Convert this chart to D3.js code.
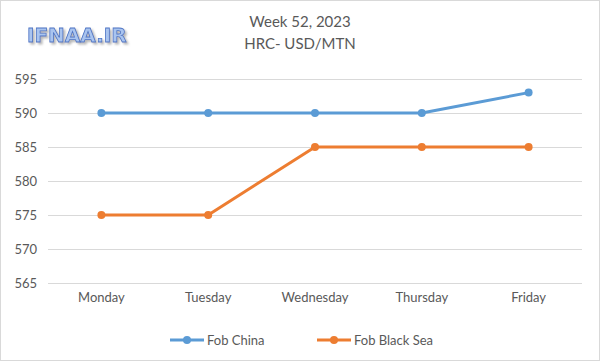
<!DOCTYPE html>
<html><head><meta charset="utf-8">
<script src="https://cdn.jsdelivr.net/npm/d3@7"></script>
<style>html,body{margin:0;padding:0;background:#fff;}svg{display:block;}</style>
</head><body>
<script>
const categories = ["Monday","Tuesday","Wednesday","Thursday","Friday"];
const fobChina = [590,590,590,590,593];
const fobBlackSea = [575,575,585,585,585];
const yTicks = [565,570,575,580,585,590,595];
const seriesNames = ["Fob China","Fob Black Sea"];
const colors = ["#5b9bd5","#ed7d31"];
const titleLines = ["Week 52, 2023","HRC- USD/MTN"];

const W=600,H=361;
const svg=d3.select("body").append("svg").attr("width",W).attr("height",H);
const defs=svg.append("defs");
const f=defs.append("filter").attr("id","shadow").attr("x","-10%").attr("y","-20%").attr("width","130%").attr("height","160%");
f.append("feDropShadow").attr("dx",2).attr("dy",2).attr("stdDeviation",0.8).attr("flood-color","#b0b0b0").attr("flood-opacity",0.9);

svg.append("rect").attr("x",0.5).attr("y",0.5).attr("width",W-1).attr("height",H-1)
  .attr("fill","#fff").attr("stroke","#d9d9d9");

const font="Lato, 'Open Sans', sans-serif";
const x=d3.scaleBand().domain(categories).range([48,582]);
const y=d3.scaleLinear().domain([565,595]).range([283,79]);

// gridlines
svg.append("g").selectAll("line").data(yTicks).join("line")
  .attr("x1",48).attr("x2",582).attr("y1",d=>Math.round(y(d))+0.5).attr("y2",d=>Math.round(y(d))+0.5)
  .attr("stroke","#d9d9d9").attr("stroke-width",1);

// y axis labels
const yAxis=d3.axisLeft(y).tickValues(yTicks).tickSize(0).tickPadding(0);
const gy=svg.append("g").attr("transform","translate(37,0)").call(yAxis);
gy.select(".domain").remove();
gy.selectAll("text").attr("font-family",font).attr("font-size",13).attr("fill","#595959");

// x axis labels
const xAxis=d3.axisBottom(x).tickSize(0).tickPadding(0);
const gx=svg.append("g").attr("transform","translate(0,293)").call(xAxis);
gx.select(".domain").remove();
gx.selectAll("text").attr("font-family",font).attr("font-size",13).attr("fill","#595959");

const series=[fobChina,fobBlackSea];
const line=d3.line().x((d,i)=>x(categories[i])+x.bandwidth()/2).y(d=>y(d));
series.forEach((s,k)=>{
  svg.append("path").datum(s).attr("d",line).attr("fill","none")
    .attr("stroke",colors[k]).attr("stroke-width",3).attr("stroke-linejoin","round");
  svg.append("g").selectAll("circle").data(s).join("circle")
    .attr("cx",(d,i)=>x(categories[i])+x.bandwidth()/2).attr("cy",d=>y(d)).attr("r",4)
    .attr("fill",colors[k]);
});

// title
svg.append("g").selectAll("text").data(titleLines).join("text")
  .attr("x",300).attr("y",(d,i)=>27+i*22).attr("text-anchor","middle")
  .attr("font-family",font).attr("font-size",15).attr("fill","#595959").text(d=>d);

// logo
svg.append("text").attr("x",27).attr("y",42).attr("font-family","'DejaVu Sans', sans-serif")
  .attr("font-weight","bold").attr("font-size",20).attr("filter","url(#shadow)")
  .attr("fill","#a9c4ef").attr("stroke","#4d74c4").attr("stroke-width",0.8).text("IFNAA.IR");

// legend
const lx=[170,317];
seriesNames.forEach((n,k)=>{
  const g=svg.append("g");
  g.append("line").attr("x1",lx[k]).attr("x2",lx[k]+34).attr("y1",340).attr("y2",340)
    .attr("stroke",colors[k]).attr("stroke-width",3);
  g.append("circle").attr("cx",lx[k]+17).attr("cy",340).attr("r",4).attr("fill",colors[k]);
  g.append("text").attr("x",lx[k]+37).attr("y",344.5).attr("font-family",font).attr("font-size",13)
    .attr("fill","#595959").text(n);
});
</script>
</body></html>
